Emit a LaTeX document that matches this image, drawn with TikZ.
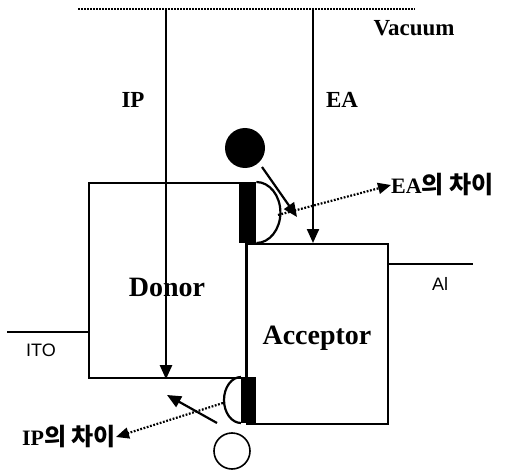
\documentclass[tikz,border=0pt]{standalone}
\usepackage{fontspec}
\setmainfont{Liberation Serif}
\setsansfont{Liberation Sans}
\newfontfamily\cjk{Noto Sans CJK KR}
\usepackage{tikz}
\usetikzlibrary{positioning, arrows.meta}

\tikzset{
  bar/.style={fill=black, inner sep=0pt},
  lbl/.style={font=\bfseries\fontsize{23}{23}\selectfont, inner sep=0pt},
  big/.style={font=\bfseries\fontsize{28}{28}\selectfont, inner sep=0pt},
  metal/.style={font=\sffamily\fontsize{18}{18}\selectfont, inner sep=0pt},
  kor/.style={font=\bfseries\fontsize{22}{22}\selectfont, inner sep=0pt},
  line/.style={line width=2.2pt},
  tip/.style={-{Triangle[length=14pt,width=12pt]}},
  hop/.style={line width=2.2pt, dash pattern=on 1.8pt off 1.6pt, -{Triangle[length=13pt,width=11pt]}}
}

\begin{document}
\begin{tikzpicture}[x=1pt, y=-1pt]
  \useasboundingbox (0,0) rectangle (506,476);

  % vacuum level
  \coordinate (vacL) at (78,9);
  \coordinate (vacR) at (415,9);
  \draw[line width=1.6pt, dash pattern=on 1.5pt off 1.5pt] (vacL) -- (vacR);
  \node[lbl] (vacuum) at (414,28) {Vacuum};

  % donor and acceptor levels
  \node[draw, line width=2.2pt, minimum width=157pt, minimum height=195pt,
        anchor=north west, inner sep=0pt] (donor) at (88,182) {};
  \node[draw, line width=2.2pt, minimum width=141pt, minimum height=180pt,
        anchor=north west, inner sep=0pt] (acceptor) at (246,243) {};
  \node[big] (donortext) at (167,287) {Donor};
  \node[big] (acceptortext) at (317,338) {Acceptor};

  % electrodes
  \coordinate (itoL) at (7,332);
  \coordinate (alR) at (473,264);
  \draw[line] (itoL) -- (itoL -| donor.west);
  \draw[line] (alR -| acceptor.east) -- (alR);
  \node[metal] (ito) at (41,350) {ITO};
  \node[metal] (al) at (440,284) {Al};

  % interface bars
  \node[bar, minimum width=17pt, minimum height=61pt, anchor=north west] (topbar) at (239,182) {};
  \node[bar, minimum width=15pt, minimum height=46pt, anchor=north west] (botbar) at (241,377) {};
  \draw[line] (topbar.north east) arc[start angle=-90, end angle=90, x radius=24, y radius=30.5];
  \draw[line] (botbar.north west) arc[start angle=-90, end angle=-270, x radius=17, y radius=23];

  % IP and EA
  \coordinate (iptop) at (166,9);
  \coordinate (eatop) at (313,9);
  \draw[line, tip] (iptop) -- (iptop |- donor.south);
  \draw[line, tip] (eatop) -- (eatop |- acceptor.north);
  \node[lbl] (ip) at (133,100) {IP};
  \node[lbl] (ea) at (342,100) {EA};

  % charges
  \node[circle, fill=black, minimum size=40pt, inner sep=0pt] (electron) at (245,148) {};
  \node[circle, draw, line width=1.6pt, minimum size=36pt, inner sep=0pt] (hole) at (232,451) {};
  \coordinate (etail) at (262,167);
  \coordinate (etip) at (297,217);
  \coordinate (htail) at (217,423);
  \coordinate (htip) at (167,395);
  \draw[line, tip] (etail) -- (etip);
  \draw[line, tip] (htail) -- (htip);

  % offsets
  \coordinate (eafrom) at (278,215);
  \coordinate (ipfrom) at (223,403);
  \node[kor, anchor=west] (eadiff) at (391,185) {EA{\cjk\fontsize{24}{24}\selectfont 의 차이}};
  \node[kor, anchor=east] (ipdiff) at (116,437) {IP{\cjk\fontsize{24}{24}\selectfont 의 차이}};
  \draw[hop] (eafrom) -- (eadiff.west);
  \draw[hop] (ipfrom) -- (ipdiff.east);
\end{tikzpicture}
\end{document}
